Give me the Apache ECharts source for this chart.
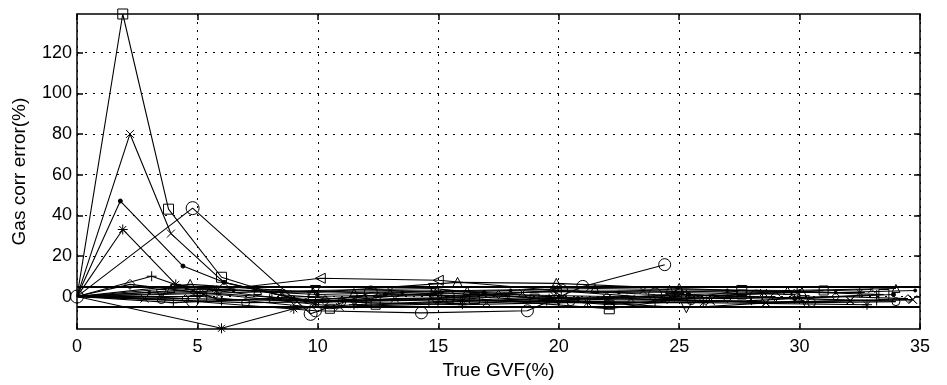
<!DOCTYPE html>
<html><head><meta charset="utf-8">
<script src="https://cdn.jsdelivr.net/npm/echarts@6/dist/echarts.min.js"></script>
<style>html,body{margin:0;padding:0;background:#fff}#c{width:947px;height:385px}</style>
</head><body><div id="c"></div>
<script>
// ---- data (x = True GVF %, y = Gas corr error %) ----
const xTicks = [0, 5, 10, 15, 20, 25, 30, 35];
const yTicks = [0, 20, 40, 60, 80, 100, 120];
const limitLines = [5, -5];

const squareA   = [[0,0],[1.9,139],[3.8,43],[6.0,9.5],[8.3,1],[11.8,-2],[16.5,-1],[22.1,-6],[27.6,3],[33.5,1]];
const crossA    = [[0,0],[2.2,80],[3.9,31],[6.1,7],[9.8,-3],[13.2,-1],[17.9,0],[22.0,-1],[26.3,-2],[28.6,-3],[32.1,-2],[34.7,-1.5]];
const dotA      = [[0,0],[1.8,47],[4.4,15],[6.1,7],[9.5,-2],[12.8,1],[16.9,2],[20.8,-1],[25.4,1],[29.8,-1],[33.9,1]];
const starA     = [[0,0],[1.9,33],[4.1,6],[5.8,3],[9.9,-3],[15.0,2],[19.6,-1],[24.8,0],[29.9,2],[32.5,2]];
const circleA   = [[0,0],[4.8,43.5],[9.7,-8.5],[12.2,2],[15.4,0],[20.1,3],[24.0,1],[28.2,0]];
const circleB   = [[0,0],[4.8,-2.3],[9.9,-7],[14.3,-8],[18.7,-7],[21.0,5],[24.4,15.7]];
const triLeftA  = [[0,0],[4.9,2],[10.1,9],[15.0,8],[19.9,3],[24.9,2],[29.8,1]];
const triUpA    = [[0,0],[4.7,6],[9.8,2],[15.8,7],[19.9,6.5],[25.0,4],[30.1,2]];
const diamondA  = [[0,0],[2.2,6],[5.1,2],[10.3,-2],[14.9,-1],[19.8,3],[24.5,-1],[29.0,0]];
const plusA     = [[0,0],[3.1,10],[6.0,-2],[9.6,0],[14.7,1],[19.5,-2],[25.3,1],[29.8,-1],[33.2,-2]];
const triDownA  = [[0,0],[3.5,1],[9.9,3],[14.8,4],[20.0,-2],[25.3,-5.5],[30.2,-2]];
const starB     = [[0,0],[6.0,-15.6],[9.0,-6],[11.5,-4],[16.0,-2],[21.2,-3],[26.0,-3],[32.8,-4]];
const crossB    = [[0,0],[2.8,-1],[5.9,1],[10.9,-5],[17.0,-3],[23.0,-1],[26.3,-2],[28.6,-3],[32.1,-2],[34.7,-1.5]];
const squareB   = [[0,0],[5.2,0],[10.5,-6],[12.4,-4],[14.8,-3],[19.0,-1],[22.1,-4],[27.6,1],[31.0,3]];
const dotB      = [[0,0],[3.0,2],[6.5,3],[10.0,1],[13.5,2],[18.0,3],[22.5,2],[27.0,3],[31.5,2],[34.8,3]];
const plusB     = [[0,0],[4.0,-3],[8.0,-1],[12.0,-3],[16.0,-4],[20.0,-3],[24.0,-3],[28.0,-2],[33.2,1]];
const triUpB    = [[0,0],[3.9,4],[7.5,3],[11.5,2],[16.2,3],[21.5,4],[24.6,3.5],[29.5,3],[34.0,4]];
const diamondB  = [[0,0],[4.5,-1],[9.0,-2],[12.5,0],[17.5,1],[22.0,0],[27.0,-1],[31.5,0],[34.5,-1]];
const circleC   = [[0,0],[3.5,-1.5],[7.0,-3],[11.0,-2.5],[15.5,-1.5],[20.5,-2.5],[25.5,-2],[30.5,-3],[34.0,-2.5]];
const crossC    = [[0,0],[5.5,4],[8.5,2],[13.0,3],[18.5,2],[23.5,3],[28.5,2],[33.0,3.5]];

const font = '"Liberation Sans", Arial, Helvetica, sans-serif';
const crossPath = 'path://M0,0L10,10M10,0L0,10';
const plusPath  = 'path://M5,0L5,10M0,5L10,5';
const starPath  = 'path://M5,0L5,10M0,5L10,5M1.5,1.5L8.5,8.5M8.5,1.5L1.5,8.5';

function mk(data, symbol, size, opts) {
  opts = opts || {};
  // first point (origin) shared by all series: hide marker for filled-dot series
  const d = opts.hideFirst ? data.map((p, i) => i === 0 ? {value: p, symbolSize: 0} : p) : data;
  return {
    type: 'line', data: d, symbol: symbol, symbolSize: size,
    symbolRotate: opts.rotate || 0,
    showSymbol: true, silent: true, z: 3,
    lineStyle: { color: '#000', width: 1.1 },
    itemStyle: { color: opts.fill || 'rgba(0,0,0,0)', borderColor: '#000', borderWidth: 1 }
  };
}

const series = [
  mk(squareA, 'rect', 10, {hideFirst:true}),
  mk(crossA, crossPath, 8, {hideFirst:true}),
  mk(dotA, 'circle', 4, {fill:'#000', hideFirst:true}),
  mk(starA, starPath, 10, {hideFirst:true}),
  mk(circleA, 'circle', 13),
  mk(circleB, 'circle', 12, {hideFirst:true}),
  mk(triLeftA, 'triangle', 10, {rotate: 90, hideFirst:true}),
  mk(triUpA, 'triangle', 10, {hideFirst:true}),
  mk(diamondA, 'diamond', 10, {hideFirst:true}),
  mk(plusA, plusPath, 10, {hideFirst:true}),
  mk(triDownA, 'triangle', 10, {rotate: 180, hideFirst:true}),
  mk(starB, starPath, 10, {hideFirst:true}),
  mk(crossB, crossPath, 8, {hideFirst:true}),
  mk(squareB, 'rect', 9, {hideFirst:true}),
  mk(dotB, 'circle', 3, {fill:'#000', hideFirst:true}),
  mk(plusB, plusPath, 9, {hideFirst:true}),
  mk(triUpB, 'triangle', 8, {hideFirst:true}),
  mk(diamondB, 'diamond', 8, {hideFirst:true}),
  mk(circleC, 'circle', 8, {hideFirst:true}),
  mk(crossC, crossPath, 7, {hideFirst:true}),
  {
    type: 'line', data: [], silent: true,
    markLine: {
      symbol: ['none','none'], silent: true, label: {show:false},
      lineStyle: { color: '#000', width: 2, type: 'solid' },
      data: limitLines.map(v => ({ yAxis: v }))
    }
  }
];

const chart = echarts.init(document.getElementById('c'), null, {renderer: 'canvas'});
chart.setOption({
  animation: false,
  backgroundColor: '#fff',
  grid: { left: 77, right: 27, top: 14, bottom: 55, containLabel: false },
  xAxis: [{
    type: 'value', min: 0, max: 35, interval: 5, position: 'bottom',
    name: 'True GVF(%)', nameLocation: 'middle', nameGap: 31,
    nameTextStyle: { fontFamily: font, fontSize: 19, color: '#000' },
    axisLine: { onZero: false, lineStyle: { color: '#000', width: 1.5 } },
    axisTick: { inside: true, length: 6, lineStyle: { color: '#000', width: 1.5 } },
    axisLabel: { fontFamily: font, fontSize: 18, color: '#000', margin: 9,
      customValues: xTicks },
    splitLine: { show: true, lineStyle: { color: '#000', width: 1, type: [2, 6] } }
  }, {
    type: 'value', min: 0, max: 35, interval: 5, position: 'top',
    axisLine: { onZero: false, lineStyle: { color: '#000', width: 1.5 } },
    axisTick: { inside: true, length: 6, lineStyle: { color: '#000', width: 1.5 } },
    axisLabel: { show: false }, splitLine: { show: false }
  }],
  yAxis: [{
    type: 'value', min: -16, max: 139, position: 'left',
    name: 'Gas corr error(%)', nameLocation: 'middle', nameGap: 48, nameRotate: 90,
    nameTextStyle: { fontFamily: font, fontSize: 19, color: '#000' },
    axisLine: { onZero: false, lineStyle: { color: '#000', width: 1.5 } },
    axisTick: { inside: true, length: 6, customValues: yTicks, lineStyle: { color: '#000', width: 1.5 } },
    axisLabel: { fontFamily: font, fontSize: 18, color: '#000', margin: 5, customValues: yTicks },
    splitLine: { show: true, lineStyle: { color: '#000', width: 1, type: [2, 6] } }
  }, {
    type: 'value', min: -16, max: 139, position: 'right',
    axisLine: { onZero: false, lineStyle: { color: '#000', width: 1.5 } },
    axisTick: { inside: true, length: 6, customValues: yTicks, lineStyle: { color: '#000', width: 1.5 } },
    axisLabel: { show: false, customValues: yTicks }, splitLine: { show: false }
  }],
  series: series
});
</script></body></html>
